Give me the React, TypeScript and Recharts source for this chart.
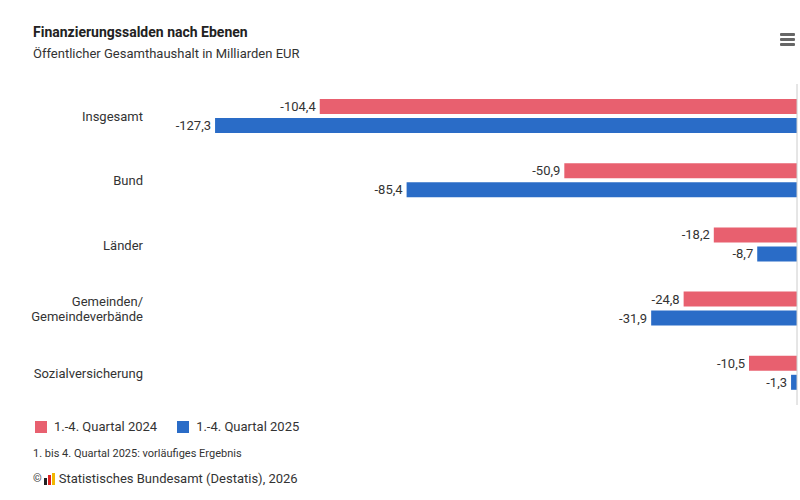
import { BarChart, Bar, XAxis, YAxis, LabelList, ReferenceLine } from "recharts"

const categories = ["Insgesamt", "Bund", "Länder", "Gemeinden/\nGemeindeverbände", "Sozialversicherung"]
const q2024 = [-104.4, -50.9, -18.2, -24.8, -10.5]
const q2025 = [-127.3, -85.4, -8.7, -31.9, -1.3]

const data = categories.map((name, i) => ({ name, q2024: q2024[i], q2025: q2025[i] }))

const PINK = "#e8606f"
const BLUE = "#2a6cc7"
const FONT = "Roboto, 'Noto Sans', sans-serif"

const fmt = (v: any) => String(v).replace(".", ",")

function CategoryTick({ x, y, payload }: any) {
  const lines = String(payload.value).split("\n")
  const lh = 15
  const startY = y - ((lines.length - 1) * lh) / 2
  return (
    <text x={x - 6} y={startY} textAnchor="end" fontSize={13} fill="#333" fontFamily={FONT} dominantBaseline="central">
      {lines.map((l, i) => (
        <tspan key={i} x={x - 6} dy={i === 0 ? 0 : lh}>
          {l}
        </tspan>
      ))}
    </text>
  )
}

// label sits left of the bar's far end (bars run leftwards from zero)
function ValueLabel({ x, y, width, height, value }: any) {
  const left = Math.min(Number(x), Number(x) + Number(width))
  return (
    <text x={left - 4} y={Number(y) + Number(height) / 2} textAnchor="end" dominantBaseline="central" fontSize={13} fill="#333" fontFamily={FONT}>
      {fmt(value)}
    </text>
  )
}

export default function App() {
  return (
    <div style={{ position: "fixed", left: 0, top: 0, width: 800, height: 500, background: "#fff", fontFamily: FONT, color: "#333" }}>
      <div style={{ position: "absolute", left: 33, top: 24, fontSize: 14, fontWeight: 700, color: "#222" }}>
        Finanzierungssalden nach Ebenen
      </div>
      <div style={{ position: "absolute", left: 33, top: 46, fontSize: 13, color: "#333" }}>
        Öffentlicher Gesamthaushalt in Milliarden EUR
      </div>
      <div style={{ position: "absolute", left: 780, top: 33 }}>
        {[0, 1, 2].map((i) => (
          <div key={i} style={{ width: 15, height: 2.5, background: "#666", marginBottom: 2.5, borderRadius: 1 }} />
        ))}
      </div>

      <div style={{ position: "absolute", left: 0, top: 0 }}>
        <BarChart
          width={800}
          height={500}
          data={data}
          layout="vertical"
          margin={{ top: 84, right: 3, bottom: 95, left: 0 }}
          barSize={15}
          barGap={4}
        >
          <XAxis type="number" domain={[-140, 0]} hide />
          <YAxis type="category" dataKey="name" width={157} axisLine={false} tickLine={false} tick={<CategoryTick />} interval={0} />
          <ReferenceLine x={0} stroke="#ccc" strokeWidth={1} />
          <Bar dataKey="q2024" fill={PINK} isAnimationActive={false}>
            <LabelList dataKey="q2024" content={<ValueLabel />} />
          </Bar>
          <Bar dataKey="q2025" fill={BLUE} isAnimationActive={false}>
            <LabelList dataKey="q2025" content={<ValueLabel />} />
          </Bar>
        </BarChart>
      </div>

      <div style={{ position: "absolute", left: 35, top: 419, display: "flex", alignItems: "center", fontSize: 13 }}>
        <span style={{ width: 12, height: 12, background: PINK, display: "inline-block", marginRight: 7 }} />
        <span style={{ marginRight: 20 }}>1.-4. Quartal 2024</span>
        <span style={{ width: 12, height: 12, background: BLUE, display: "inline-block", marginRight: 7 }} />
        <span>1.-4. Quartal 2025</span>
      </div>
      <div style={{ position: "absolute", left: 33, top: 447, fontSize: 11 }}>
        1. bis 4. Quartal 2025: vorläufiges Ergebnis
      </div>
      <div style={{ position: "absolute", left: 33, top: 471, fontSize: 13, display: "flex", alignItems: "center" }}>
        <span style={{ fontSize: 11, marginRight: 2 }}>©</span>
        <svg width={12} height={12} style={{ marginRight: 3 }}>
          <rect x={0} y={5} width={3} height={7} fill="#222" />
          <rect x={4} y={2} width={3} height={10} fill="#d22" />
          <rect x={8} y={0} width={3} height={12} fill="#f2b700" />
        </svg>
        <span>Statistisches Bundesamt (Destatis), 2026</span>
      </div>
    </div>
  )
}
